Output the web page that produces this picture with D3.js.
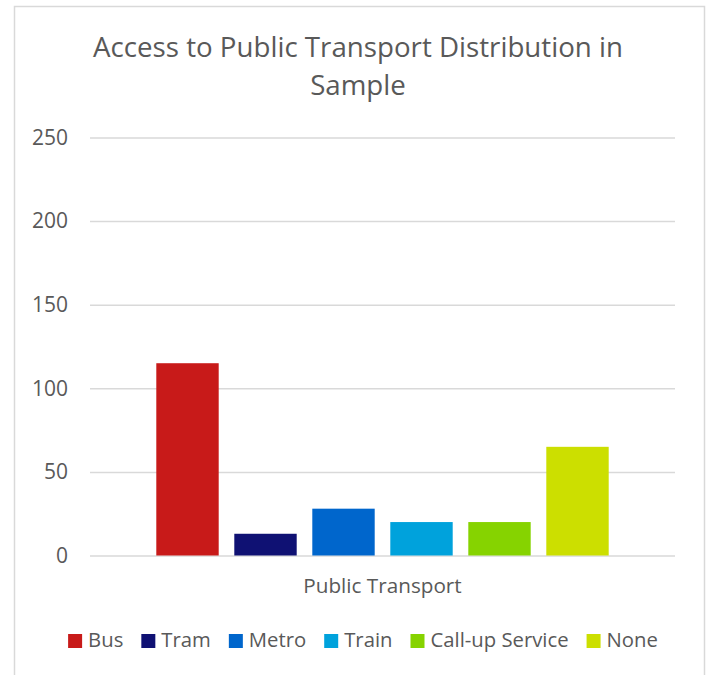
<!DOCTYPE html>
<html>
<head>
<meta charset="utf-8">
<script src="https://cdn.jsdelivr.net/npm/d3@7"></script>
<style>
  html, body { margin: 0; padding: 0; background: #fff; }
  svg { display: block; font-family: "Open Sans", "Noto Sans", sans-serif; }
</style>
</head>
<body>
<svg id="chart" width="710" height="675"></svg>
<script>
// Survey counts: access to public transport
const group = "Public Transport";
const categories = ["Bus", "Tram", "Metro", "Train", "Call-up Service", "None"];
const counts = [115, 13, 28, 20, 20, 65];
const colors = ["#C81A19", "#0F1173", "#0066CC", "#00A2DC", "#86D300", "#CCDF00"];
const yTicks = [0, 50, 100, 150, 200, 250];
const titleLines = ["Access to Public Transport Distribution in", "Sample"];

const svg = d3.select("#chart");
const textColor = "#595959";

// chart frame
svg.append("rect")
  .attr("x", 14.5).attr("y", 6.5)
  .attr("width", 690).attr("height", 680)
  .attr("fill", "#fff").attr("stroke", "#d9d9d9").attr("stroke-width", 1.5);

// title
const title = svg.append("text")
  .attr("text-anchor", "middle")
  .attr("fill", textColor)
  .attr("font-size", 27.7);
titleLines.forEach((t, i) => {
  title.append("tspan").attr("x", 358).attr("y", 57 + i * 38).text(t);
});

const plot = { left: 90, right: 675, top: 137.5, bottom: 555.5 };

const y = d3.scaleLinear().domain([0, 250]).range([plot.bottom, plot.top]);

const x0 = d3.scaleBand().domain([group])
  .range([plot.left, plot.right]).paddingInner(0).paddingOuter(0.125);
const x1 = d3.scaleBand().domain(categories)
  .range([0, x0.bandwidth()]).paddingInner(0.2).paddingOuter(0.1);

// gridlines + tick labels
const yAxis = d3.axisLeft(y).tickValues(yTicks)
  .tickSize(-(plot.right - plot.left)).tickPadding(22);
const gy = svg.append("g").attr("transform", `translate(${plot.left},0)`).call(yAxis);
gy.select(".domain").remove();
gy.selectAll(".tick line").attr("stroke", "#d9d9d9").attr("stroke-width", 1.5);
gy.selectAll(".tick text").attr("fill", textColor).attr("font-size", 21)
  .attr("font-family", "\"Open Sans\", sans-serif");

// bars
const g = svg.append("g").attr("transform", `translate(${x0(group)},0)`);
g.selectAll("rect.bar")
  .data(categories.map((c, i) => ({ c, v: counts[i], col: colors[i] })))
  .join("rect")
  .attr("class", "bar")
  .attr("x", d => x1(d.c))
  .attr("width", x1.bandwidth())
  .attr("y", d => y(d.v))
  .attr("height", d => y(0) - y(d.v))
  .attr("fill", d => d.col);

// category axis label
svg.append("text")
  .attr("x", (plot.left + plot.right) / 2).attr("y", 593)
  .attr("text-anchor", "middle").attr("fill", textColor)
  .attr("font-size", 20.7).text(group);

// legend
const legend = svg.append("g");
let cx = 0;
categories.forEach((c, i) => {
  const item = legend.append("g").attr("transform", `translate(${cx},0)`);
  item.append("rect").attr("x", 0).attr("y", -13).attr("width", 14).attr("height", 14)
    .attr("fill", colors[i]);
  const t = item.append("text").attr("x", 20).attr("y", 0)
    .attr("fill", textColor).attr("font-size", 20.3).text(c);
  cx += 20 + t.node().getComputedTextLength() + 18;
});
const legendWidth = cx - 18;
legend.attr("transform", `translate(${363 - legendWidth / 2},647)`);
</script>
</body>
</html>
